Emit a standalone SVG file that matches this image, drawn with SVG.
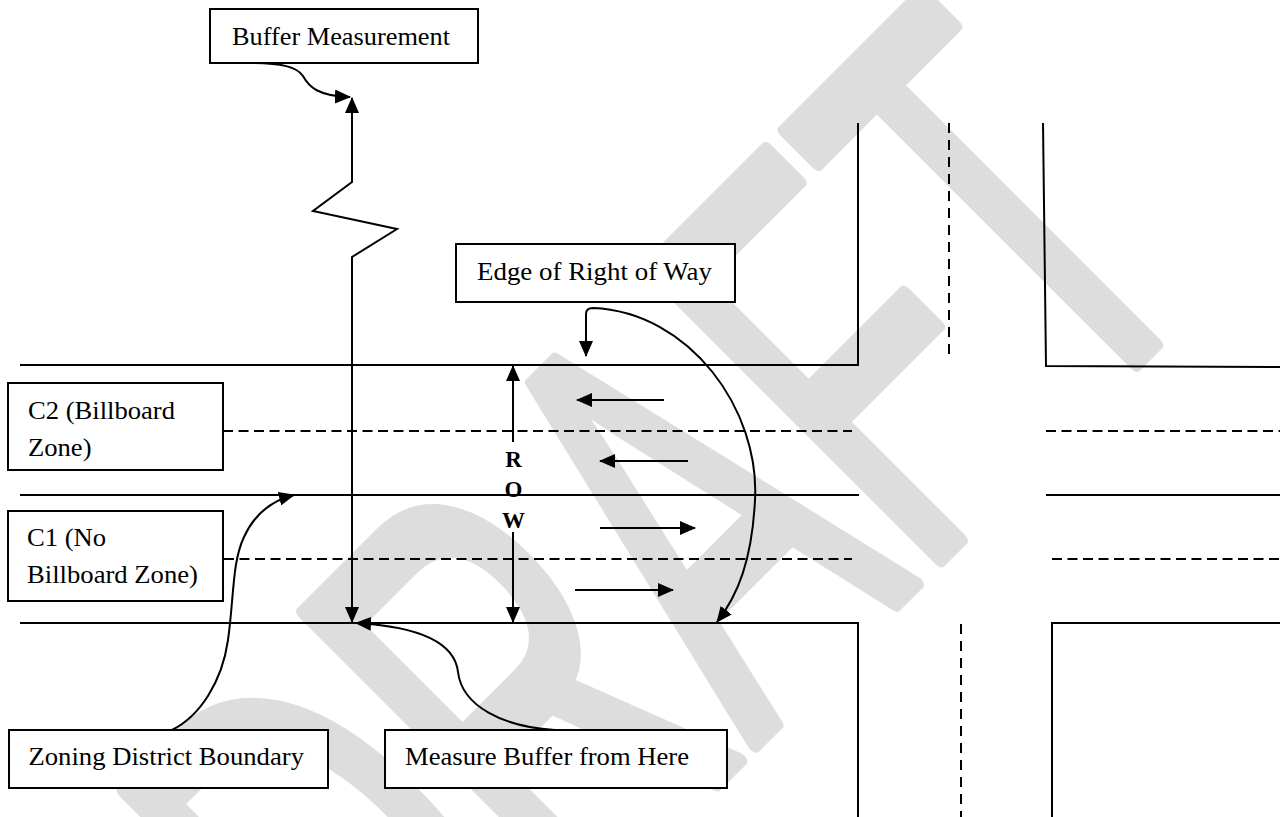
<svg xmlns="http://www.w3.org/2000/svg" width="1280" height="817" viewBox="0 0 1280 817">
<defs>
<marker id="ah" viewBox="0 0 16 14" refX="15" refY="7" markerWidth="16" markerHeight="14" markerUnits="userSpaceOnUse" orient="auto-start-reverse">
<path d="M0,0 L16,7 L0,14 z" fill="#000"/>
</marker>
<style>
.ln{stroke:#000;stroke-width:2;fill:none}
.dh{stroke:#000;stroke-width:2;fill:none;stroke-dasharray:10 5.5}
.dv{stroke:#000;stroke-width:2;fill:none;stroke-dasharray:10 7}
.box{fill:#fff;stroke:#000;stroke-width:2}
.lbl{font-family:"Liberation Serif","Times New Roman",serif;font-size:25px;fill:#000}
.row{font-family:"Liberation Serif","Times New Roman",serif;font-size:23px;font-weight:bold;fill:#000}
.con{stroke:#000;stroke-width:2;fill:none}
</style>
</defs>
<rect width="1280" height="817" fill="#fff"/>
<g id="watermark">
<text x="0" y="0" transform="translate(808,692) rotate(-45) scale(0.585,1)" text-anchor="middle" font-family="Liberation Sans, Arial, sans-serif" font-size="600" fill="#dddddd" stroke="#dddddd" stroke-width="15" stroke-linejoin="round">DRAFT</text>
</g>
<g id="roads">
<polyline class="ln" points="20,365 858,365 858,123"/>
<polyline class="ln" points="1043,123 1046,366 1280,367"/>
<line class="dv" x1="949" y1="123" x2="949" y2="356"/>
<line class="dh" x1="223" y1="431" x2="852" y2="431"/>
<line class="dh" x1="1046" y1="431" x2="1280" y2="431"/>
<line class="ln" x1="20" y1="495" x2="859" y2="495"/>
<line class="ln" x1="1046" y1="495" x2="1280" y2="495"/>
<line class="dh" x1="224" y1="559" x2="852" y2="559"/>
<line class="dh" x1="1052" y1="559" x2="1280" y2="559"/>
<polyline class="ln" points="20,623 858,623 858,817"/>
<polyline class="ln" points="1052,817 1052,623 1280,623"/>
<line class="dv" x1="961" y1="624" x2="961" y2="817"/>
</g>
<g id="row-label">
<text class="row" x="513.5" y="467" text-anchor="middle">R</text>
<text class="row" x="513.5" y="497" text-anchor="middle">O</text>
<text class="row" x="513.5" y="528" text-anchor="middle">W</text>
</g>
<g id="buffer-measurement">
<rect class="box" x="210" y="9" width="268" height="54"/>
<text class="lbl" x="232" y="45" textLength="218" lengthAdjust="spacingAndGlyphs">Buffer Measurement</text>
</g>
<g id="edge-of-row">
<rect class="box" x="456" y="244" width="279" height="58"/>
<text class="lbl" x="477" y="280" textLength="235" lengthAdjust="spacingAndGlyphs">Edge of Right of Way</text>
</g>
<g id="c2">
<rect class="box" x="8" y="383" width="215" height="87"/>
<text class="lbl" x="28" y="419" textLength="147" lengthAdjust="spacingAndGlyphs">C2 (Billboard</text>
<text class="lbl" x="28" y="456" textLength="63.5" lengthAdjust="spacingAndGlyphs">Zone)</text>
</g>
<g id="c1">
<rect class="box" x="8" y="511" width="215" height="90"/>
<text class="lbl" x="27" y="546" textLength="79" lengthAdjust="spacingAndGlyphs">C1 (No</text>
<text class="lbl" x="27" y="583" textLength="171" lengthAdjust="spacingAndGlyphs">Billboard Zone)</text>
</g>
<g id="zoning-boundary">
<rect class="box" x="9" y="730" width="319" height="58"/>
<text class="lbl" x="28.5" y="765" textLength="275.5" lengthAdjust="spacingAndGlyphs">Zoning District Boundary</text>
</g>
<g id="measure-here">
<rect class="box" x="385" y="730" width="342" height="58"/>
<text class="lbl" x="405" y="765" textLength="284" lengthAdjust="spacingAndGlyphs">Measure Buffer from Here</text>
</g>
<g id="connectors">
<line class="con" x1="664" y1="400" x2="577" y2="400" marker-end="url(#ah)"/>
<line class="con" x1="688" y1="461" x2="600" y2="461" marker-end="url(#ah)"/>
<line class="con" x1="600" y1="528" x2="695" y2="528" marker-end="url(#ah)"/>
<line class="con" x1="575" y1="590" x2="673" y2="590" marker-end="url(#ah)"/>
<line class="con" x1="513" y1="442" x2="513" y2="366" marker-end="url(#ah)"/>
<line class="con" x1="513" y1="532" x2="513" y2="622" marker-end="url(#ah)"/>
<polyline class="con" points="352,622 352,257 397,229 313,211 352,182 352,98" marker-start="url(#ah)" marker-end="url(#ah)"/>
<path class="con" d="M250,63 C282,63 297,67 303,76 C309,87 318,96 350,97" marker-end="url(#ah)"/>
<path class="con" d="M586,356 L586,314 Q586,308 593,308 C690,312 760,410 755,500 C752,560 738,595 717,622" marker-start="url(#ah)" marker-end="url(#ah)"/>
<path class="con" d="M172,730 C200,716 222,682 228,640 C234,598 232,562 244,537 C254,515 270,501 294,495" marker-end="url(#ah)"/>
<path class="con" d="M555,730 C503,727 462,706 458,672 C455,645 425,627 356,623" marker-end="url(#ah)"/>
</g>
</svg>
